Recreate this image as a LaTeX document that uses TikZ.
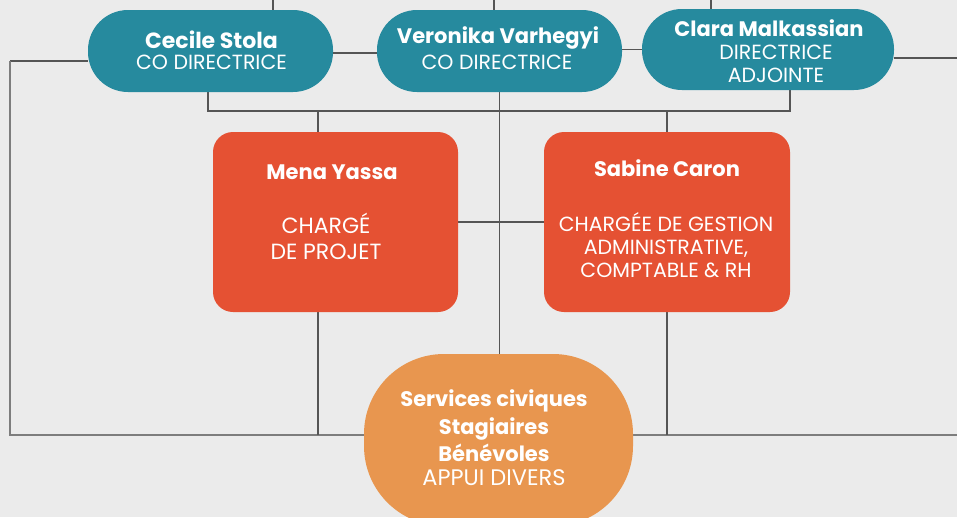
\documentclass[tikz,border=0pt]{standalone}
\usepackage{fontspec}
\setmainfont{Poppins}
\definecolor{bgc}{HTML}{EBEBEB}
\definecolor{teal}{HTML}{268A9E}
\definecolor{redc}{HTML}{E55133}
\definecolor{orac}{HTML}{E8964F}
\definecolor{linec}{HTML}{555555}
\definecolor{busc}{HTML}{7D7D7D}
\pgfdeclarelayer{back}
\pgfsetlayers{back,main}
\begin{document}
\begin{tikzpicture}[x=1pt,y=-1pt,
  pill/.style={fill=teal, draw=none, rounded corners=40pt, minimum width=245pt, minimum height=82pt, inner sep=0pt},
  rbox/.style={fill=redc, draw=none, rounded corners=20pt, minimum width=245pt, minimum height=180pt, inner sep=0pt},
  nametxt/.style={text=white, font=\fontsize{21}{24}\selectfont\bfseries, inner sep=0pt, align=center},
  subtxt/.style={text=white, font=\fontsize{20.5}{23}\selectfont, inner sep=0pt, align=center},
  conn/.style={draw=linec, line width=1.3pt},
  bus/.style={draw=busc, line width=2.2pt}]
\useasboundingbox (0,0) rectangle (957,517);

% boxes
\node[pill] (cec) at (210.5,51) {};
\node[pill] (ver) at (499.5,51) {};
\node[pill, minimum width=252pt, minimum height=81pt] (cla) at (768,49.5) {};
\node[rbox] (men) at (335.5,222) {};
\node[rbox, minimum width=246pt] (sab) at (667,222) {};
\node[fill=orac, draw=none, rounded corners=80pt, minimum width=269pt, minimum height=172pt, inner sep=0pt] (ora) at (498.5,440) {};

% texts
\node[nametxt, font=\fontsize{22}{24}\selectfont\bfseries] (cecn) at (211.5,40) {Cecile Stola};
\node[subtxt] (cecs) at (211.5,62) {CO DIRECTRICE};
\node[nametxt] (vern) at (498,38) {Veronika Varhegyi};
\node[subtxt] (vers) at (497,62) {CO DIRECTRICE};
\node[nametxt] (clan) at (769,28) {Clara Malkassian};
\node[subtxt] (clas) at (776,63.5) {DIRECTRICE\\ADJOINTE};
\node[nametxt] (menn) at (332,172) {Mena Yassa};
\node[subtxt, font=\fontsize{22}{26}\selectfont] (mens) at (326,236) {CHARGÉ\\DE PROJET};
\node[nametxt] (sabn) at (667,168) {Sabine Caron};
\node[subtxt] (sabs) at (666,245) {CHARGÉE DE GESTION\\ADMINISTRATIVE,\\COMPTABLE \& RH};
\node[nametxt, font=\fontsize{21}{27.5}\selectfont\bfseries] (oran) at (494,426) {Services civiques\\Stagiaires\\Bénévoles};
\node[subtxt, font=\fontsize{22.5}{24}\selectfont] (oras) at (494,478) {APPUI DIVERS};

% connector coordinates
\coordinate (t1) at (273,0);
\coordinate (t2) at (494,0);
\coordinate (t3) at (711,0);
\coordinate (L) at (10,61);
\coordinate (Lb) at (10,435);
\coordinate (Rb) at (957,435);
\coordinate (R) at (957,58);
\coordinate (b1) at (208,111);
\coordinate (b2) at (790,111);
\coordinate (m) at (318,111);

\begin{pgfonlayer}{back}
\fill[bgc] (0,0) rectangle (957,517);
\draw[conn] (t1) -- (t1 |- cec.north);
\draw[conn] (t2) -- (t2 |- ver.north);
\draw[conn] (t3) -- (t3 |- cla.north);
\draw[conn] (L -| cec.west) -- (L);
\draw[bus] (L) -- (Lb) -- (Rb);
\draw[conn] ([yshift=-2pt]cec.east) -- ([yshift=-2pt]ver.west);
\draw[conn] (cla.west -| ver.east) -- (cla.west);
\draw[conn] (R -| cla.east) -- (R);
\draw[conn] (b1 |- cec.south) -- (b1) -- (b2) -- (b2 |- cla.south);
\draw[conn] (m) -- (m |- men.north);
\draw[conn] (m |- men.south) -- (m |- Lb);
\draw[conn] (ver.south) -- (ver.south |- ora.north);
\draw[conn] (sab.north |- b1) -- (sab.north);
\draw[conn] (sab.south) -- (sab.south |- Lb);
\draw[conn] (men.east) -- (sab.west);
\end{pgfonlayer}
\end{tikzpicture}
\end{document}
